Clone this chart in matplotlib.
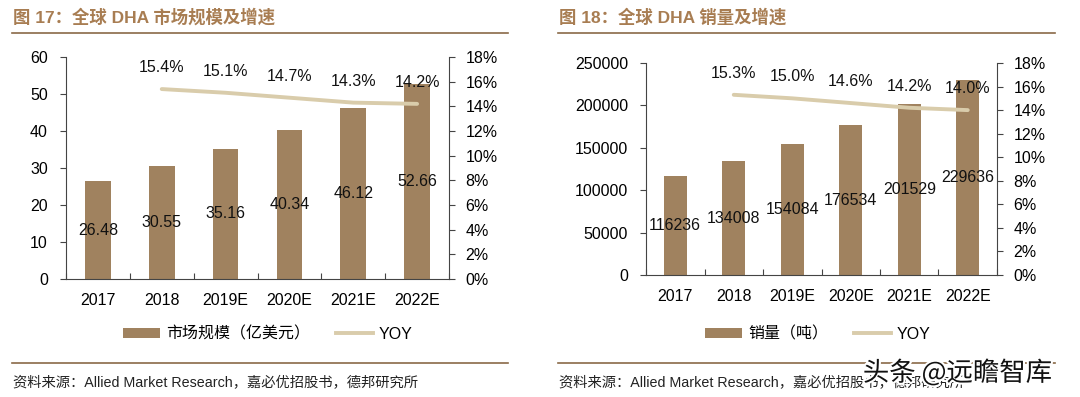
import matplotlib
matplotlib.use("Agg")
import matplotlib.pyplot as plt
import matplotlib.patheffects as pe
from matplotlib.lines import Line2D
from matplotlib.patches import Patch

plt.rcParams['font.family'] = ['Liberation Sans', 'Noto Sans CJK SC', 'DejaVu Sans']

years = ["2017", "2018", "2019E", "2020E", "2021E", "2022E"]
market_size = [26.48, 30.55, 35.16, 40.34, 46.12, 52.66]
market_yoy = [15.4, 15.1, 14.7, 14.3, 14.2]
sales = [116236, 134008, 154084, 176534, 201529, 229636]
sales_yoy = [15.3, 15.0, 14.6, 14.2, 14.0]

titles = ["图 17：全球 DHA 市场规模及增速", "图 18：全球 DHA 销量及增速"]
bar_legend = ["市场规模（亿美元）", "销量（吨）"]
source = "资料来源：Allied Market Research，嘉必优招股书，德邦研究所"

BAR_C = "#a0825f"
LINE_C = "#d9ccab"
TITLE_C = "#a87d52"
RULE_C = "#8a6a48"

W, H = 1080, 397
fig = plt.figure(figsize=(W / 100, H / 100), dpi=100)
CJK = ['Noto Sans CJK SC', 'DejaVu Sans']
MIX = ['Liberation Sans', 'Noto Sans CJK SC']
FS = 11.5


def px_axes(l, t, r, b):
    return fig.add_axes([l / W, 1 - b / H, (r - l) / W, (b - t) / H])


def draw(panel, vals, yoy, ymax, ystep, box, legend_x):
    l, t, r, b = box
    ax = px_axes(l, t, r, b)
    x = list(range(len(years)))
    bars = ax.bar(x, vals, width=0.4, color=BAR_C, zorder=2)
    ax.bar_label(bars, labels=[f"{v:g}" for v in vals], label_type='center',
                 fontsize=FS, color='#111111', zorder=5)
    ax.set_xlim(-0.5, len(years) - 0.5)
    ax.set_ylim(0, ymax)
    n = int(ymax / ystep) + 1
    ax.set_yticks([i * ystep for i in range(n)])
    ax.set_yticklabels([f"{int(i * ystep)}" for i in range(n)])
    ax.set_xticks([i - 0.5 for i in range(len(years) + 1)])
    ax.set_xticklabels([])
    ax.set_xticks(x, minor=True)
    ax.set_xticklabels(years, minor=True)
    ax.tick_params(axis='x', which='major', direction='in', length=4, color='#444444')
    ax.tick_params(axis='x', which='minor', length=0, pad=10, labelsize=FS)
    ax.tick_params(axis='y', direction='out', length=4, color='#444444', labelsize=FS, pad=9)
    for s in ['top', 'right']:
        ax.spines[s].set_visible(False)
    for s in ['left', 'bottom']:
        ax.spines[s].set_color('#444444')
        ax.spines[s].set_linewidth(0.8)

    ax2 = ax.twinx()
    ax2.set_ylim(0, 18)
    ax2.set_yticks(list(range(0, 19, 2)))
    ax2.set_yticklabels([f"{v}%" for v in range(0, 19, 2)])
    ax2.tick_params(axis='y', direction='out', length=4, color='#444444', labelsize=FS, pad=8)
    for s in ['top', 'left', 'bottom']:
        ax2.spines[s].set_visible(False)
    ax2.spines['right'].set_color('#444444')
    ax2.spines['right'].set_linewidth(0.8)
    xl = x[1:]
    ax2.plot(xl, yoy, color=LINE_C, lw=2.8, zorder=3, solid_capstyle='round')
    for xi, yi in zip(xl, yoy):
        ax2.annotate(f"{yi:.1f}%", (xi, yi), xytext=(0, 10), textcoords='offset points',
                     ha='center', va='bottom', fontsize=FS, color='#111111')
    ax2.set_xlim(-0.5, len(years) - 0.5)

    # title, rules, legend, source
    x0 = 12 if panel == 0 else 558
    x1 = 508 if panel == 0 else 1055
    fig.text((x0 + 1) / W, 1 - 17 / H, titles[panel], ha='left', va='center',
             fontsize=12.5, fontweight='bold', color=TITLE_C, family=MIX)
    fig.add_artist(Line2D([x0 / W, x1 / W], [1 - 33 / H, 1 - 33 / H], color=RULE_C, lw=1.2))
    fig.add_artist(Line2D([x0 / W, x1 / W], [1 - 363 / H, 1 - 363 / H], color=RULE_C, lw=1.2))
    fig.text((x0 + 1) / W, 1 - 383 / H, source, ha='left', va='center', fontsize=10.3,
             color='#222222', family=MIX)
    handles = [Patch(facecolor=BAR_C, edgecolor='none'),
               Line2D([0], [0], color=LINE_C, lw=2.8)]
    fig.legend(handles, [bar_legend[panel], "YOY"], loc='center',
               bbox_to_anchor=(legend_x / W, 1 - 334 / H), ncol=2, frameon=False,
               handlelength=2.3, handleheight=0.6, columnspacing=1.6,
               handletextpad=0.4, prop={'family': MIX, 'size': FS})


draw(0, market_size, market_yoy, 60, 10, (66, 57, 449, 279), 268)
draw(1, sales, sales_yoy, 250000, 50000, (646, 63, 997, 275), 818)

fig.text(1052 / W, 1 - 373 / H, "头条 @远瞻智库", ha='right', va='center', fontsize=19,
         color='#111111', family=CJK,
         path_effects=[pe.withStroke(linewidth=3, foreground='white')])

fig.savefig("out.png", dpi=100, facecolor='white')
